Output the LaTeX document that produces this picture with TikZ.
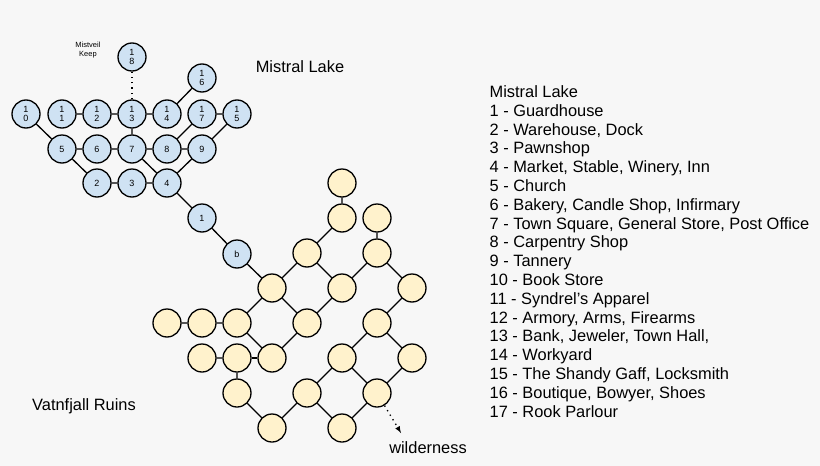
\documentclass[tikz,border=0pt]{standalone}
\usepackage{fontspec}
\setmainfont{Liberation Sans}
\usetikzlibrary{positioning}
\definecolor{lakeblue}{HTML}{CFE2F3}
\definecolor{ruinsand}{HTML}{FFF2CC}
\definecolor{paper}{HTML}{F7F7F7}
\begin{document}
\begin{tikzpicture}[x=1pt, y=-1pt, >=latex, line width=1.3pt,
			spot/.style={circle, draw, minimum size=28pt, inner sep=0pt,
			font=\fontsize{9}{9.5}\selectfont, align=center},
			lake/.style={spot, fill=lakeblue},
			ruin/.style={spot, fill=ruinsand}]
	\fill[paper] (0,0) rectangle (820,466);
	\useasboundingbox (0,0) rectangle (820,466);
	% Mistral Lake
	\node[lake] (L10) at (26,114)  {1\\0};
	\node[lake] (L11) at (62,114)  {1\\1};
	\node[lake] (L12) at (97,114)  {1\\2};
	\node[lake] (L13) at (132,114) {1\\3};
	\node[lake] (L14) at (167,114) {1\\4};
	\node[lake] (L17) at (202,114) {1\\7};
	\node[lake] (L15) at (237,114) {1\\5};
	\node[lake] (L18) at (132,57)  {1\\8};
	\node[lake] (L16) at (202,78)  {1\\6};
	\node[lake] (L5)  at (62,149)  {5};
	\node[lake] (L6)  at (97,149)  {6};
	\node[lake] (L7)  at (132,149) {7};
	\node[lake] (L8)  at (167,149) {8};
	\node[lake] (L9)  at (202,149) {9};
	\node[lake] (L2)  at (97,183)  {2};
	\node[lake] (L3)  at (132,183) {3};
	\node[lake] (L4)  at (167,183) {4};
	\node[lake] (L1)  at (202,218) {1};
	\node[lake] (Lb)  at (237,254) {b};
	% Vatnfjall Ruins
	\node[ruin] (R1)  at (342,183) {};
	\node[ruin] (R2)  at (342,218) {};
	\node[ruin] (R3)  at (377,218) {};
	\node[ruin] (R4)  at (307,253) {};
	\node[ruin] (R5)  at (377,253) {};
	\node[ruin] (R6)  at (272,288) {};
	\node[ruin] (R7)  at (342,288) {};
	\node[ruin] (R8)  at (412,288) {};
	\node[ruin] (R9)  at (167,323) {};
	\node[ruin] (R10) at (202,323) {};
	\node[ruin] (R11) at (237,323) {};
	\node[ruin] (R12) at (307,323) {};
	\node[ruin] (R13) at (377,323) {};
	\node[ruin] (R14) at (202,358) {};
	\node[ruin] (R15) at (237,358) {};
	\node[ruin] (R16) at (272,358) {};
	\node[ruin] (R17) at (342,358) {};
	\node[ruin] (R18) at (412,358) {};
	\node[ruin] (R19) at (237,393) {};
	\node[ruin] (R20) at (307,393) {};
	\node[ruin] (R21) at (377,393) {};
	\node[ruin] (R22) at (272,428) {};
	\node[ruin] (R23) at (342,428) {};
	\coordinate (wild) at (401,433);

	\draw (L10) -- (L5) -- (L2) -- (L3) -- (L4) -- (L1) -- (Lb) -- (R6);
	\draw (L11) -- (L12) -- (L13) -- (L14) -- (L16);
	\draw (L17) -- (L15) -- (L9) -- (L8) -- (L7) -- (L6) -- (L5);
	\draw (L13) -- (L7) -- (L4) -- (L9);
	\draw (L8) -- (L17);
	\draw[loosely dotted] (L13) -- (L18);

	\draw (R1) -- (R2) -- (R4) -- (R6) -- (R11) -- (R10) -- (R9);
	\draw (R3) -- (R5) -- (R7) -- (R4);
	\draw (R5) -- (R8) -- (R13) -- (R17) -- (R20) -- (R22) -- (R19) -- (R15) -- (R14);
	\draw (R6) -- (R12) -- (R7);
	\draw (R11) -- (R16) -- (R12);
	\draw (R15) -- (R16);
	\draw (R13) -- (R18) -- (R21) -- (R17);
	\draw (R20) -- (R23) -- (R21);
	\draw[loosely dotted, ->] (R21) -- (wild);

	% labels
	\node[font=\fontsize{7.5}{8.5}\selectfont, align=center] (keep) at (88,50) {Mistveil\\Keep};
	\node[font=\fontsize{16.4}{17}\selectfont] (lakename) at (300,67) {Mistral Lake};
	\node[font=\fontsize{16.4}{17}\selectfont] (ruinname) at (84,406) {Vatnfjall Ruins};
	\node[font=\fontsize{16.4}{17}\selectfont] (wildname) at (428,448) {wilderness};
	\node[font=\fontsize{16.4}{18.8}\selectfont, align=left, anchor=north west, inner sep=0pt]
		(legend) at (489,85) {Mistral Lake\\
		1 - Guardhouse\\
		2 - Warehouse, Dock\\
		3 - Pawnshop\\
		4 - Market, Stable, Winery, Inn\\
		5 - Church\\
		6 - Bakery, Candle Shop, Infirmary\\
		7 - Town Square, General Store, Post Office\\
		8 - Carpentry Shop\\
		9 - Tannery\\
		10 - Book Store\\
		11 - Syndrel's Apparel\\
		12 - Armory, Arms, Firearms\\
		13 - Bank, Jeweler, Town Hall,\\
		14 - Workyard\\
		15 - The Shandy Gaff, Locksmith\\
		16 - Boutique, Bowyer, Shoes\\
		17 - Rook Parlour};
\end{tikzpicture}
\end{document}
